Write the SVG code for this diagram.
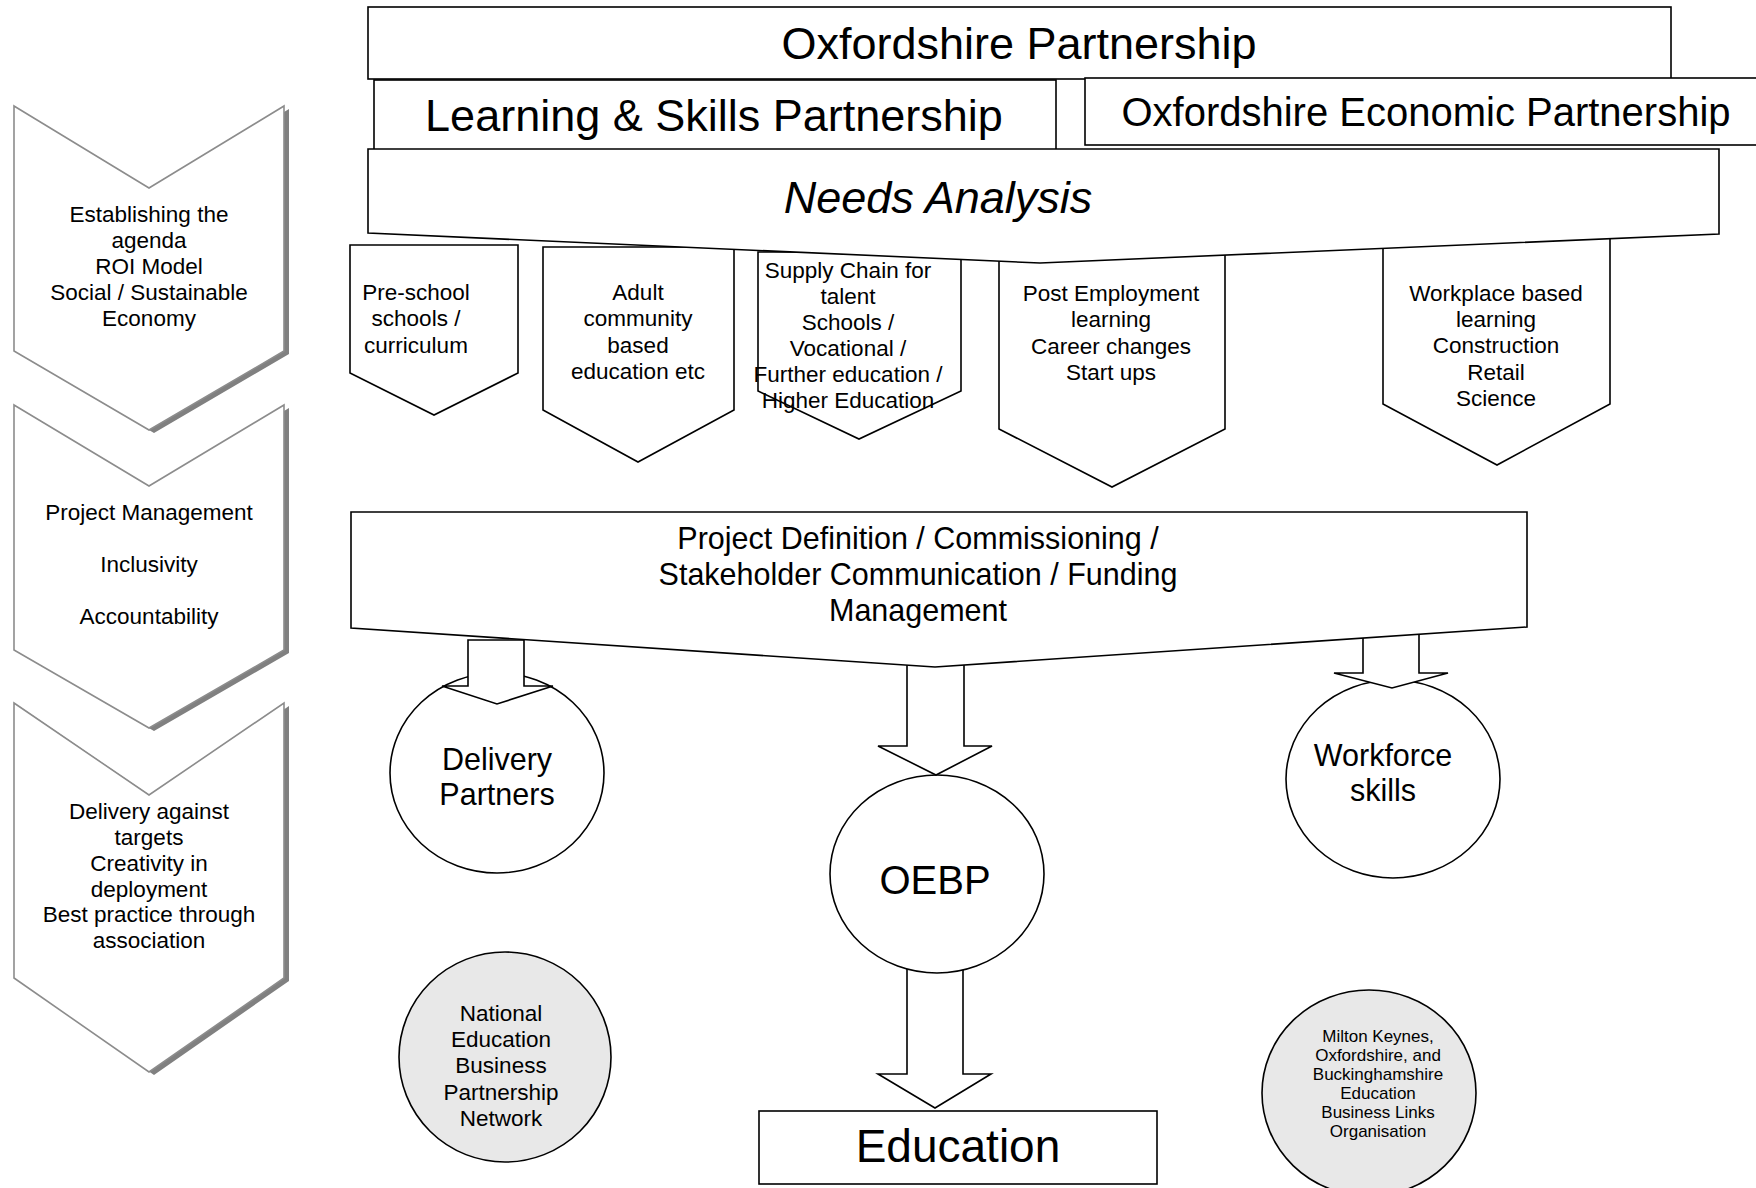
<svg xmlns="http://www.w3.org/2000/svg" width="1756" height="1188" viewBox="0 0 1756 1188">
  <style>
    text { font-family: "Liberation Sans", Arial, sans-serif; fill: #000; text-anchor: middle; }
    .box { fill: #fff; stroke: #000; stroke-width: 1.6; }
    .chev { fill: #fff; stroke: #8c8c8c; stroke-width: 1.6; }
    .shadow { fill: #808080; }
    .grey { fill: #e8e8e8; stroke: #000; stroke-width: 1.6; }
    .s22 { font-size: 22.5px; }
    .s17 { font-size: 17px; }
    .s30 { font-size: 30.5px; }
    .s40 { font-size: 40px; }
    .s44 { font-size: 45px; }
  </style>

  <!-- Stage chevrons on the left -->
  <g id="stage-agenda">
    <polygon class="shadow" transform="translate(5,3)" points="14,106 149,188 284,106 284,351 149,430 14,351"/>
    <polygon class="chev" points="14,106 149,188 284,106 284,351 149,430 14,351"/>
    <text class="s22" x="149" y="222">Establishing the</text>
    <text class="s22" x="149" y="248">agenda</text>
    <text class="s22" x="149" y="274">ROI Model</text>
    <text class="s22" x="149" y="300">Social / Sustainable</text>
    <text class="s22" x="149" y="326">Economy</text>
  </g>
  <g id="stage-management">
    <polygon class="shadow" transform="translate(5,3)" points="14,405 149,486 284,405 284,650 149,728 14,650"/>
    <polygon class="chev" points="14,405 149,486 284,405 284,650 149,728 14,650"/>
    <text class="s22" x="149" y="520">Project Management</text>
    <text class="s22" x="149" y="572">Inclusivity</text>
    <text class="s22" x="149" y="624">Accountability</text>
  </g>
  <g id="stage-delivery">
    <polygon class="shadow" transform="translate(5,3)" points="14,703 149,795 284,703 284,978 149,1072 14,978"/>
    <polygon class="chev" points="14,703 149,795 284,703 284,978 149,1072 14,978"/>
    <text class="s22" x="149" y="819">Delivery against</text>
    <text class="s22" x="149" y="845">targets</text>
    <text class="s22" x="149" y="871">Creativity in</text>
    <text class="s22" x="149" y="897">deployment</text>
    <text class="s22" x="149" y="922">Best practice through</text>
    <text class="s22" x="149" y="948">association</text>
  </g>

  <!-- Needs areas hanging under the analysis banner -->
  <g id="need-preschool">
    <polygon class="box" points="350,245 518,245 518,373 434,415 350,373"/>
    <text class="s22" x="416" y="300">Pre-school</text>
    <text class="s22" x="416" y="326">schools /</text>
    <text class="s22" x="416" y="353">curriculum</text>
  </g>
  <g id="need-adult">
    <polygon class="box" points="543,247 734,247 734,410 638,462 543,410"/>
    <text class="s22" x="638" y="300">Adult</text>
    <text class="s22" x="638" y="326">community</text>
    <text class="s22" x="638" y="353">based</text>
    <text class="s22" x="638" y="379">education etc</text>
  </g>
  <g id="need-supply">
    <polygon class="box" points="758,252 961,252 961,391 859,439 758,391"/>
    <text class="s22" x="848" y="278">Supply Chain for</text>
    <text class="s22" x="848" y="304">talent</text>
    <text class="s22" x="848" y="330">Schools /</text>
    <text class="s22" x="848" y="356">Vocational /</text>
    <text class="s22" x="848" y="382">Further education /</text>
    <text class="s22" x="848" y="408">Higher Education</text>
  </g>
  <g id="need-postemployment">
    <polygon class="box" points="999,240 1225,240 1225,429 1112,487 999,429"/>
    <text class="s22" x="1111" y="301">Post Employment</text>
    <text class="s22" x="1111" y="327">learning</text>
    <text class="s22" x="1111" y="354">Career changes</text>
    <text class="s22" x="1111" y="380">Start ups</text>
  </g>
  <g id="need-workplace">
    <polygon class="box" points="1383,230 1610,230 1610,404 1497,465 1383,404"/>
    <text class="s22" x="1496" y="301">Workplace based</text>
    <text class="s22" x="1496" y="327">learning</text>
    <text class="s22" x="1496" y="353">Construction</text>
    <text class="s22" x="1496" y="380">Retail</text>
    <text class="s22" x="1496" y="406">Science</text>
  </g>

  <!-- Partnership banners -->
  <g id="oxfordshire-partnership">
    <rect class="box" x="368" y="7" width="1303" height="72"/>
    <text class="s44" x="1019" y="59">Oxfordshire Partnership</text>
  </g>
  <g id="economic-partnership">
    <rect class="box" x="1085" y="78" width="690" height="67"/>
    <text class="s40" x="1426" y="126">Oxfordshire Economic Partnership</text>
  </g>
  <g id="learning-skills">
    <rect class="box" x="374" y="80" width="682" height="71"/>
    <text class="s44" x="714" y="131">Learning &amp; Skills Partnership</text>
  </g>
  <g id="needs-analysis">
    <polygon class="box" points="368,149 1719,149 1719,234 1040,263 368,233"/>
    <text class="s44" x="938" y="213" font-style="italic">Needs Analysis</text>
  </g>

  <!-- Outcome circles -->
  <g id="oebp-to-education" class="connector">
    <polygon class="box" points="907,950 963,950 963,1074 991,1074 935,1108 878,1074 907,1074"/>
  </g>
  <g id="oebp">
    <ellipse class="box" cx="937" cy="874" rx="107" ry="99"/>
    <text x="935" y="894" style="font-size:40px">OEBP</text>
  </g>
  <g id="delivery-partners">
    <ellipse class="box" cx="497" cy="773" rx="107" ry="100"/>
    <text class="s30" x="497" y="770">Delivery</text>
    <text class="s30" x="497" y="805">Partners</text>
  </g>
  <g id="workforce-skills">
    <ellipse class="box" cx="1393" cy="779" rx="107" ry="99"/>
    <text class="s30" x="1383" y="766">Workforce</text>
    <text class="s30" x="1383" y="801">skills</text>
  </g>
  <g id="nebpn">
    <ellipse class="grey" cx="505" cy="1057" rx="106" ry="105"/>
    <text class="s22" x="501" y="1021">National</text>
    <text class="s22" x="501" y="1047">Education</text>
    <text class="s22" x="501" y="1073">Business</text>
    <text class="s22" x="501" y="1100">Partnership</text>
    <text class="s22" x="501" y="1126">Network</text>
  </g>
  <g id="mob-eblo">
    <ellipse class="grey" cx="1369" cy="1093" rx="107" ry="103"/>
    <text class="s17" x="1378" y="1042">Milton Keynes,</text>
    <text class="s17" x="1378" y="1061">Oxfordshire, and</text>
    <text class="s17" x="1378" y="1080">Buckinghamshire</text>
    <text class="s17" x="1378" y="1099">Education</text>
    <text class="s17" x="1378" y="1118">Business Links</text>
    <text class="s17" x="1378" y="1137">Organisation</text>
  </g>
  <g id="education">
    <rect class="box" x="759" y="1111" width="398" height="73"/>
    <text x="958" y="1162" style="font-size:46px">Education</text>
  </g>

  <!-- Block arrows out of the commissioning stage -->
  <g id="connectors">
    <polygon class="box" points="468,640 524,640 524,686 553,686 497,704 442,686 468,686"/>
    <polygon class="box" points="907,640 964,640 964,746 992,746 936,775 878,746 907,746"/>
    <polygon class="box" points="1363,620 1419,620 1419,673 1448,673 1392,688 1334,673 1363,673"/>
  </g>

  <!-- Commissioning stage -->
  <g id="commissioning">
    <polygon class="box" points="351,512 1527,512 1527,627 935,667 351,628"/>
    <text class="s30" x="918" y="549">Project Definition / Commissioning /</text>
    <text class="s30" x="918" y="585">Stakeholder Communication / Funding</text>
    <text class="s30" x="918" y="621">Management</text>
  </g>
</svg>
